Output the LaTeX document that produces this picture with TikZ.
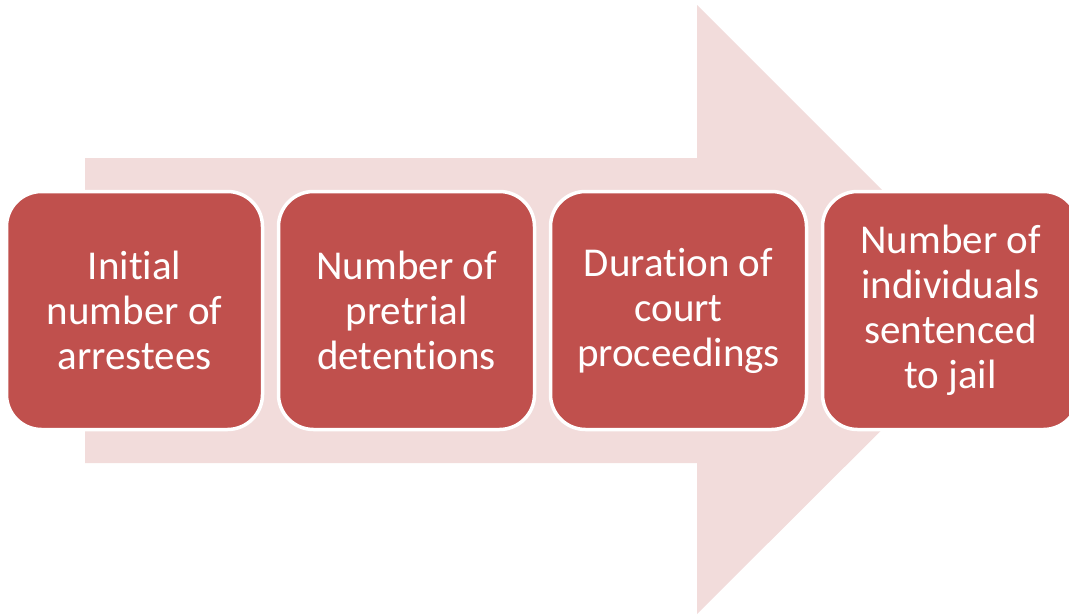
\documentclass[tikz,border=0pt]{standalone}
\usepackage{fontspec}
\setmainfont[RawFeature={-liga;-clig;-dlig;-calt}]{Carlito}
\newcommand\brk{\kern0pt}
\definecolor{boxred}{HTML}{C0504D}
\definecolor{arrowpink}{HTML}{F2DCDB}
\begin{document}
\begin{tikzpicture}[x=1pt,y=-1pt,
  stagebox/.style={draw=white, line width=3.5pt, fill=boxred, rounded corners=35pt,
    minimum width=256pt, minimum height=238pt, inner sep=0pt, align=center,
    text=white, font=\fontsize{41}{45}\selectfont}]
\useasboundingbox (0,0) rectangle (1069,614);
\fill[arrowpink] (85,158) -- (697,158) -- (697,5) -- (1002,310) -- (697,614) -- (697,463) -- (85,463) -- cycle;
\node[stagebox] (b1) at (134.5,310.5) {Init\brk ial\\number of\\arrestees};
\node[stagebox] (b2) at (406.5,310.5) {Number of\\pretrial\\detent\brk ions};
\node[stagebox] (b3) at (678.5,310.5) {Durat\brk ion of\\court\\proceedings};
\node[stagebox] (b4) at (950.5,310.5) {Number of\\individuals\\sentenced\\to jail};
\end{tikzpicture}
\end{document}
